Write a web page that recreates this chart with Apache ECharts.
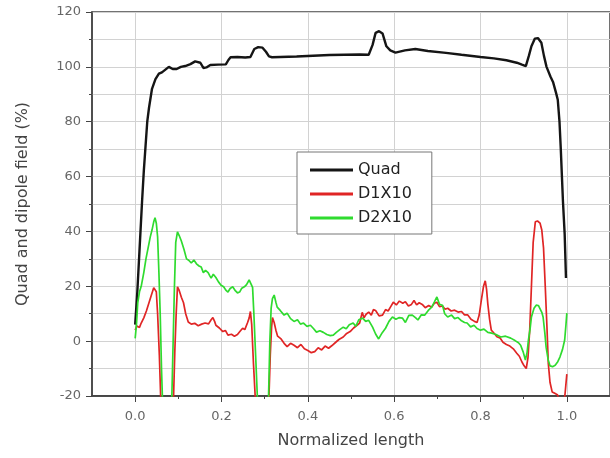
<!DOCTYPE html>
<html>
<head>
<meta charset="utf-8">
<script src="https://cdn.jsdelivr.net/npm/echarts@6/dist/echarts.min.js"></script>
<style>html,body{margin:0;padding:0;background:#fff;}#c{width:610px;height:458px;}</style>
</head>
<body>
<div id="c"></div>
<script>
var seriesNames = ['Quad', 'D1X10', 'D2X10'];
var xTickLabels = [0, 0.2, 0.4, 0.6, 0.8, 1.0];
var xMinorTicks = [0.1, 0.3, 0.5, 0.7, 0.9];

var quadX = [0.000,0.005,0.010,0.016,0.020,0.024,0.028,0.032,0.039,0.047,0.055,0.062,0.070,0.078,0.087,0.096,0.106,0.116,0.128,0.139,0.151,0.158,0.165,0.174,0.192,0.210,0.216,0.221,0.237,0.255,0.267,0.276,0.285,0.295,0.303,0.310,0.317,0.374,0.450,0.520,0.541,0.550,0.557,0.565,0.573,0.582,0.591,0.603,0.625,0.649,0.678,0.720,0.756,0.800,0.831,0.860,0.884,0.896,0.905,0.912,0.918,0.926,0.933,0.941,0.947,0.953,0.962,0.968,0.975,0.979,0.983,0.986,0.991,0.995,0.998];
var quadY = [6,18,33,51,62,71,80,85,92,95.5,97.5,98,99,100,99.2,99.2,100,100.3,101,102,101.5,99.6,99.8,100.7,100.8,100.9,102.5,103.5,103.6,103.4,103.6,106.5,107.2,107,105.5,103.8,103.5,103.8,104.3,104.5,104.4,108,112.4,113,112.2,107.5,106,105.2,106,106.5,105.8,105.1,104.4,103.6,103.1,102.4,101.5,100.8,100.3,104,107.5,110.3,110.5,108.8,104,100,96.5,94.5,90.5,88,80,70,51,39,23];

var d1X = [0.000,0.004,0.010,0.014,0.020,0.026,0.032,0.038,0.043,0.046,0.049,0.052,0.056,0.059,0.062,0.086,0.089,0.092,0.095,0.098,0.102,0.107,0.112,0.117,0.123,0.130,0.138,0.146,0.154,0.162,0.170,0.176,0.180,0.184,0.187,0.195,0.203,0.209,0.215,0.223,0.230,0.237,0.243,0.249,0.254,0.260,0.264,0.267,0.270,0.274,0.278,0.282,0.306,0.310,0.313,0.316,0.318,0.322,0.326,0.330,0.338,0.345,0.352,0.360,0.368,0.376,0.384,0.392,0.400,0.408,0.416,0.424,0.432,0.440,0.448,0.456,0.464,0.472,0.482,0.490,0.498,0.506,0.514,0.520,0.526,0.530,0.535,0.541,0.547,0.552,0.557,0.565,0.573,0.580,0.586,0.592,0.598,0.605,0.612,0.620,0.626,0.633,0.640,0.646,0.652,0.658,0.665,0.672,0.680,0.687,0.693,0.699,0.705,0.712,0.718,0.724,0.732,0.740,0.748,0.756,0.763,0.770,0.778,0.786,0.792,0.797,0.802,0.807,0.811,0.814,0.817,0.821,0.825,0.832,0.838,0.845,0.852,0.860,0.868,0.876,0.884,0.890,0.896,0.901,0.906,0.910,0.914,0.918,0.922,0.927,0.932,0.938,0.942,0.946,0.950,0.954,0.957,0.961,0.966,0.972,0.978,0.984,0.992,0.996,1.000];
var d1Y = [4,5.5,5,6.6,8.5,11,14,17,19.5,20.2,18,10,-5,-20,-30,-30,-20,-3,10,19.8,18.5,16,14,10,7,6.2,6.5,5.6,6.2,6.6,6.3,7.8,8.6,7.2,5.8,4.8,3.5,3.9,2.2,2.5,1.8,2.4,3.6,4.7,4.2,6.6,8.4,10.8,6,-8,-20,-30,-30,-20,-5,5,8.6,6.8,4,1.8,0.8,-0.8,-2,-0.8,-1.5,-2.4,-1.2,-2.8,-3.4,-4.2,-3.8,-2.4,-3.2,-1.8,-2.6,-1.6,-0.5,0.6,1.5,2.8,3.5,4.8,5.8,6.6,10.5,8.5,9.8,10.6,9.5,11.5,11.2,9.2,9.5,11.5,11,12.6,14.2,13.2,14.6,13.8,14.4,12.8,13.4,14.8,13.2,14,13.4,12.2,13,12.4,13.8,14.2,12.6,12.8,11.6,12,11,11.3,10.6,10.8,9.6,9.6,8,7.2,6.8,9.5,15,20,22,19,13.5,8,4,2.8,1.6,1.2,-0.4,-1.2,-1.8,-2.8,-4.4,-5.5,-7.6,-9,-10,-6,4,20,36,43.5,43.8,43,40.5,34,20,5,-8,-15,-18.5,-19,-19.5,-22,-24,-19,-12];

var d2X = [0.000,0.003,0.006,0.010,0.014,0.020,0.025,0.030,0.035,0.039,0.043,0.046,0.049,0.052,0.055,0.058,0.061,0.063,0.066,0.082,0.085,0.088,0.091,0.094,0.098,0.102,0.107,0.113,0.119,0.124,0.130,0.136,0.142,0.148,0.153,0.158,0.163,0.169,0.173,0.176,0.181,0.187,0.193,0.199,0.205,0.210,0.215,0.220,0.226,0.232,0.237,0.242,0.247,0.253,0.258,0.264,0.268,0.272,0.275,0.279,0.283,0.286,0.305,0.309,0.312,0.315,0.318,0.322,0.326,0.329,0.336,0.345,0.352,0.360,0.368,0.376,0.383,0.390,0.398,0.406,0.413,0.420,0.428,0.436,0.444,0.452,0.459,0.466,0.474,0.482,0.489,0.496,0.505,0.511,0.518,0.527,0.534,0.541,0.550,0.557,0.564,0.572,0.580,0.588,0.596,0.604,0.612,0.619,0.626,0.634,0.642,0.650,0.655,0.663,0.671,0.679,0.687,0.693,0.699,0.705,0.712,0.717,0.724,0.733,0.740,0.748,0.756,0.763,0.769,0.777,0.785,0.792,0.800,0.808,0.817,0.826,0.836,0.847,0.858,0.870,0.880,0.888,0.893,0.899,0.904,0.908,0.911,0.915,0.918,0.924,0.929,0.934,0.938,0.942,0.945,0.949,0.952,0.957,0.961,0.967,0.973,0.979,0.984,0.990,0.995,0.998,1.000];
var d2Y = [1,6,14,18,20,25,30,34,38,40.5,43.5,45,43,38,25,10,-10,-20,-30,-30,-20,0,20,36,39.8,38.5,36.5,33.5,30,29.5,28.5,29.6,28.2,27.4,27,25,25.8,25,23.8,23,24.4,23.2,21.6,20.4,19.8,18.6,17.9,19.2,19.8,18.4,17.6,17.9,19.3,19.8,20.6,22.3,21,19.6,10,-5,-20,-30,-30,-20,0,12,15.5,16.8,14.2,12.4,11.2,9.5,10.2,8.2,7.2,7.8,6.2,6.6,5.4,5.8,4.6,3.3,3.8,3.2,2.4,2,2.2,3.2,4.2,5.1,4.5,6,6.6,5.4,7.8,8.4,7.2,7.6,5.1,2.6,0.8,3,4.7,7.2,8.8,8,8.6,8.4,6.8,9.4,9.5,8.5,7.7,9.6,9.5,11.2,12.4,14.2,16.1,13.4,13.1,10,8.8,9.5,8.2,8.6,7.4,6.8,6.6,5.2,5.8,4.6,4,4.4,3.2,2.9,2.4,1.5,1.8,1.1,0.2,-0.6,-1.5,-4,-6.9,-4,0.4,4.6,8.8,12,13.1,13,12.4,10.5,8.8,3,-2.2,-7,-9,-9.3,-8.8,-7.5,-5.8,-3,0.4,6,10.2];

function zip(xs, ys) { return xs.map(function (x, i) { return [x, ys[i]]; }); }

var FONT = 'DejaVu Sans';
var gridColor = '#d2d2d2';
var axisColor = '#444';

var chart = echarts.init(document.getElementById('c'), null, { renderer: 'canvas' });
chart.setOption({
  animation: false,
  backgroundColor: '#fff',
  grid: { left: 92, top: 12, width: 526, height: 384, show: true, borderColor: axisColor, borderWidth: 1.5, backgroundColor: 'transparent' },
  legend: {
    orient: 'vertical', left: 297, top: 152,
    padding: [10, 20, 8, 13], itemGap: 8, itemWidth: 43, itemHeight: 3,
    icon: 'rect',
    backgroundColor: '#fff', borderColor: '#777', borderWidth: 1, borderRadius: 0,
    textStyle: { fontFamily: FONT, fontSize: 16, color: '#222', lineHeight: 16 },
    data: seriesNames
  },
  xAxis: [{
    type: 'value', min: -0.1, max: 1.1, interval: 0.1,
    name: 'Normalized length', nameLocation: 'middle', nameGap: 37,
    nameTextStyle: { fontFamily: FONT, fontSize: 16, color: '#444' },
    axisLine: { show: true, onZero: false, lineStyle: { color: axisColor, width: 1.5 } },
    axisTick: { show: true, inside: false, length: 6, customValues: xTickLabels, lineStyle: { color: axisColor } },
    axisLabel: { customValues: xTickLabels, margin: 14, fontFamily: FONT, fontSize: 13, color: '#666', formatter: function (v) { return v.toFixed(1); } },
    splitLine: { show: true, lineStyle: { color: gridColor, width: 1 } }
  }, {
    type: 'value', min: -0.1, max: 1.1, interval: 0.1, position: 'bottom', gridIndex: 0,
    axisLine: { show: true, onZero: false, lineStyle: { color: axisColor, width: 1.5 } },
    axisTick: { show: true, inside: false, length: 3, customValues: xMinorTicks, lineStyle: { color: axisColor } },
    axisLabel: { show: false },
    splitLine: { show: false }
  }],
  yAxis: {
    type: 'value', min: -20, max: 120, interval: 20,
    name: 'Quad and dipole field (%)', nameLocation: 'middle', nameGap: 61, nameRotate: 90,
    nameTextStyle: { fontFamily: FONT, fontSize: 16, color: '#444' },
    axisLine: { show: true, onZero: false, lineStyle: { color: axisColor, width: 1.5 } },
    axisTick: { show: true, inside: false, length: 6, lineStyle: { color: axisColor } },
    minorTick: { show: true, splitNumber: 2, length: 3, lineStyle: { color: axisColor } },
    axisLabel: { margin: 11, fontFamily: FONT, fontSize: 13, color: '#666' },
    splitLine: { show: true, lineStyle: { color: gridColor, width: 1 } },
    minorSplitLine: { show: true, lineStyle: { color: gridColor, width: 1 } }
  },
  series: [
    { name: seriesNames[0], type: 'line', data: zip(quadX, quadY), symbol: 'none', clip: true,
      lineStyle: { color: '#151515', width: 2.4 }, itemStyle: { color: '#151515' } },
    { name: seriesNames[1], type: 'line', data: zip(d1X, d1Y), symbol: 'none', clip: true,
      lineStyle: { color: '#e02525', width: 1.7 }, itemStyle: { color: '#e02525' } },
    { name: seriesNames[2], type: 'line', data: zip(d2X, d2Y), symbol: 'none', clip: true,
      lineStyle: { color: '#2fdb2f', width: 1.7 }, itemStyle: { color: '#2fdb2f' } }
  ]
});
</script>
</body>
</html>
